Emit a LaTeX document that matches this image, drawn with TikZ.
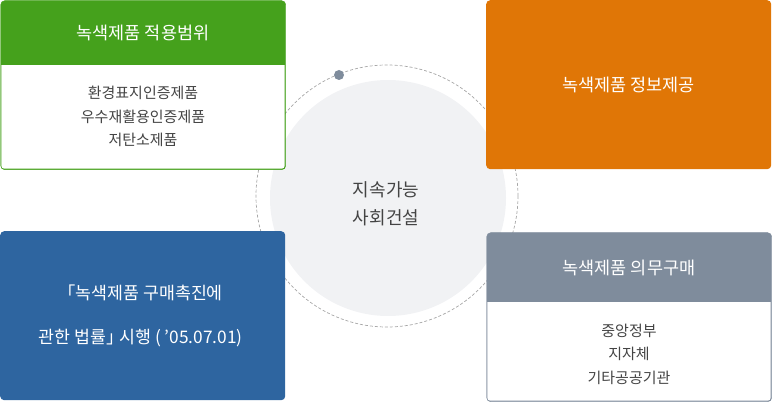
\documentclass[tikz,border=0pt]{standalone}
\usepackage{fontspec}
\setmainfont{Noto Sans CJK KR}
\usetikzlibrary{positioning}
\definecolor{grn}{HTML}{45A11C}
\definecolor{org}{HTML}{E07606}
\definecolor{blu}{HTML}{2E65A0}
\definecolor{gry}{HTML}{7F8C9C}
\definecolor{txtgray}{HTML}{444444}
\definecolor{corefill}{HTML}{F1F2F4}

\begin{document}
\begin{tikzpicture}[
        x=1pt, y=-1pt,
        panel/.style={rounded corners=4pt, anchor=north west, inner sep=0pt,
            minimum width=285pt, minimum height=169pt},
        head/.style={font=\fontsize{17.5}{21}\selectfont, text=white, align=center},
        body/.style={font=\fontsize{15}{23.5}\selectfont, text=txtgray, align=center},
    ]
        \useasboundingbox (0,0) rectangle (773,403);

        % dashed orbit and centre
        \draw[gray!70, dashed, dash pattern=on 3pt off 2pt, line width=0.7pt] (387,196) circle (131);
        \fill[corefill] (388,198) circle (118);
        \node[font=\fontsize{18}{28}\selectfont, text=txtgray, align=center] (core) at (386,204) {지속가능\\사회건설};
        \node[circle, fill=gry, minimum size=10pt, inner sep=0pt] (dot) at (339,75) {};

        % top left: scope
        \node[panel, draw=grn, fill=grn] (scope) at (0.5,0.5) {};
        \fill[white, rounded corners=3pt] (1.3,58) rectangle (284.7,168.7);
        \fill[grn] (1,5) rectangle (285,65);
        \node[head] (scopeh) at (143,33) {녹색제품 적용범위};
        \node[body] (scopeb) at (143,116.5) {환경표지인증제품\\우수재활용인증제품\\저탄소제품};

        % top right: info
        \node[panel, fill=org] (info) at (486,0) {};
        \node[head] (infoh) at (info.center) {녹색제품 정보제공};

        % bottom left: law
        \node[panel, fill=blu] (law) at (0,231) {};
        \node[head, font=\fontsize{17.3}{44}\selectfont] (lawh) at ([xshift=-2pt]law.center) {「녹색제품 구매촉진에\\관한 법률」\kern-0.45em\ 시행 ( ’05.07.01)};

        % bottom right: duty
        \node[panel, draw=gry, fill=gry] (duty) at (486.5,232.5) {};
        \fill[white, rounded corners=3pt] (487.3,295) rectangle (770.7,400.7);
        \fill[gry] (487,237) rectangle (771,302);
        \node[head] (dutyh) at (629,268) {녹색제품 의무구매};
        \node[body] (dutyb) at (629,354) {중앙정부\\지자체\\기타공공기관};
    \end{tikzpicture}
\end{document}
